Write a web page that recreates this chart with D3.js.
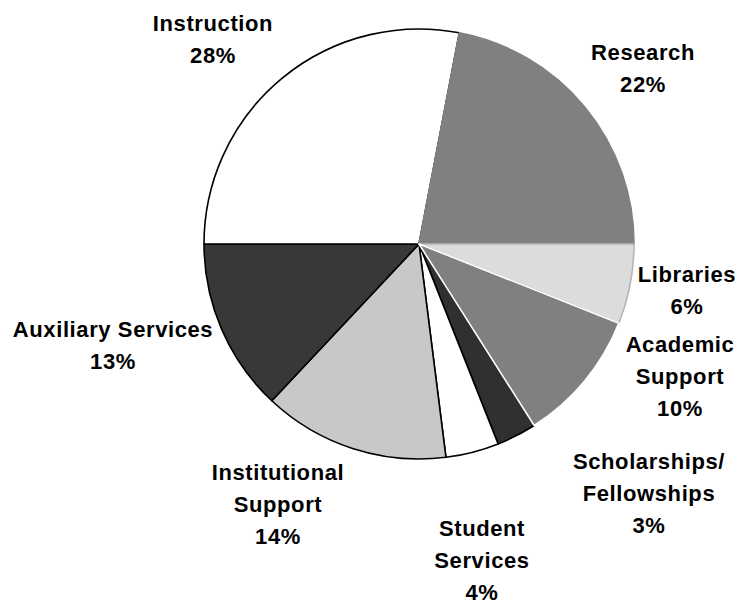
<!DOCTYPE html>
<html>
<head>
<meta charset="utf-8">
<script src="https://cdn.jsdelivr.net/npm/d3@7"></script>
<style>
  html, body { margin: 0; padding: 0; background: #fff; }
  svg { display: block; }
  text { font-family: "Liberation Sans", Arial, sans-serif; font-weight: bold; font-size: 22px; letter-spacing: 0.6px; fill: #000; }
</style>
</head>
<body>
<svg id="chart" width="741" height="604"></svg>
<script>
// ---- data ----
const categories = ["Research", "Libraries", "Academic Support", "Scholarships/ Fellowships",
                    "Student Services", "Institutional Support", "Auxiliary Services", "Instruction"];
const values = [22, 6, 10, 3, 4, 14, 13, 28];
const labelNames = [["Research"], ["Libraries"], ["Academic", "Support"], ["Scholarships/", "Fellowships"],
                    ["Student", "Services"], ["Institutional", "Support"], ["Auxiliary Services"], ["Instruction"]];
const fills = ["#808080", "#dcdcdc", "#808080", "#303030", "#ffffff", "#c8c8c8", "#383838", "#ffffff"];
const strokes = ["#808080", "#b4b4b4", "#ffffff", "#000", "#000", "#000", "#000", "#000"];

// ---- layout ----
const cx = 419, cy = 244, R = 215;
const labelAnchor = [[643, 60], [687, 282], [680, 352], [649, 469], [482, 536], [278, 480], [113, 337], [213, 31]];
const lineGap = 32;

const svg = d3.select("#chart");
const g = svg.append("g").attr("transform", `translate(${cx},${cy})`);

const startA = 10.8 * Math.PI / 180;
const pie = d3.pie().value(d => d).sort(null).startAngle(startA).endAngle(startA + 2 * Math.PI);
const arcs = pie(values).map((a, i) => ({...a, i}));
const arc = d3.arc().innerRadius(0).outerRadius(R);

// draw dark-outlined slices first, light-outlined on top
const order = arcs.slice().sort((a, b) => (strokes[a.i] === "#000" ? 0 : 1) - (strokes[b.i] === "#000" ? 0 : 1));
g.selectAll("path").data(order).join("path")
  .attr("d", arc)
  .attr("fill", d => fills[d.i])
  .attr("stroke", d => strokes[d.i])
  .attr("stroke-width", 1.6)
  .attr("stroke-linejoin", "round");

// labels
const total = d3.sum(values);
labelNames.forEach((lines, i) => {
  const all = lines.concat([Math.round(values[i] / total * 100) + "%"]);
  const t = svg.append("text").attr("text-anchor", "middle");
  all.forEach((s, k) => {
    t.append("tspan").attr("x", labelAnchor[i][0]).attr("y", labelAnchor[i][1] + k * lineGap).text(s);
  });
});
</script>
</body>
</html>
